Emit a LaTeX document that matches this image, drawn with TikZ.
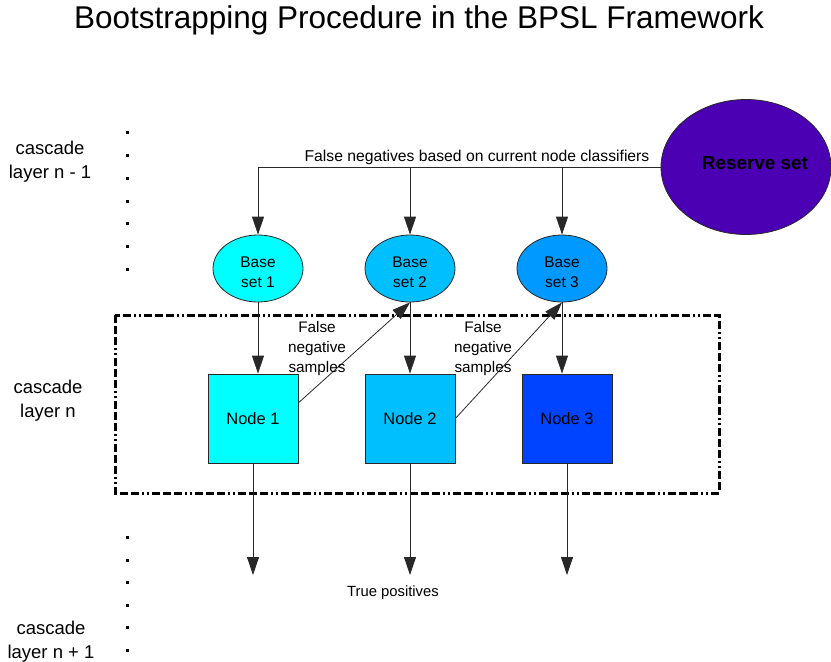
\documentclass[tikz,border=0pt]{standalone}
\usepackage{fontspec}
\setmainfont{Liberation Sans}
\usetikzlibrary{shapes.geometric,arrows.meta,calc}

\definecolor{cyanfill}{RGB}{0,255,255}
\definecolor{skyfill}{RGB}{0,191,255}
\definecolor{azurefill}{RGB}{0,153,255}
\definecolor{bluefill}{RGB}{0,68,255}
\definecolor{reservefill}{RGB}{75,0,180}
\definecolor{edgegray}{RGB}{40,40,40}

\begin{document}
\begin{tikzpicture}[x=1pt,y=-1pt,
  baseset/.style={ellipse, draw=edgegray, line width=0.8pt,
    minimum width=90pt, minimum height=67pt, inner sep=0pt},
  setname/.style={label={[yshift=-4pt, align=center,
    font=\fontsize{15.5}{20}\selectfont]center:#1}},
  nodebox/.style={rectangle, draw=edgegray, line width=0.8pt,
    minimum width=90pt, minimum height=89pt, inner sep=0pt,
    font=\fontsize{16.5}{20}\selectfont},
  flow/.style={draw=edgegray, line width=0.8pt,
    -{Triangle[length=18pt,width=12pt]}},
  plain/.style={draw=edgegray, line width=0.8pt},
  layerlabel/.style={align=center, font=\fontsize{18.5}{24}\selectfont},
  smalllabel/.style={align=center, font=\fontsize{15.3}{20}\selectfont},
  groupbox/.style={line width=3pt, black,
    dash pattern=on 8pt off 3pt on 8pt off 3pt on 8pt off 3pt on 2pt off 3pt on 2pt off 3pt},
  layerdot/.style={fill=black}
]
\useasboundingbox (0,0) rectangle (831,662);

% title
\node[font=\fontsize{31.5}{36}\selectfont] (title) at (419,20) {Bootstrapping Procedure in the BPSL Framework};

% layer labels
\node[layerlabel] (ln1) at (50,162) {cascade\\layer n - 1};
\node[layerlabel] (ln) at (48,401) {cascade\\layer n};
\node[layerlabel] (ln2) at (51,642) {cascade\\layer n + 1};

% dotted separators
\foreach \yy in {132,155,178,201,223,246,269}
  \fill[layerdot] (125.5,\yy-1.5) rectangle ++(3,3);
\foreach \yy in {537,560,582,605,627,650}
  \fill[layerdot] (125.5,\yy-1.5) rectangle ++(3,3);

% current cascade layer
\draw[groupbox] (115,315) rectangle (719,493);

% reserve set
\node[ellipse, draw=edgegray, line width=0.8pt, fill=reservefill,
  minimum width=170pt, minimum height=135pt, inner sep=0pt] (res) at (746,167) {};
\node[font=\bfseries\fontsize{18.9}{22}\selectfont] (restext) at (755,163) {Reserve set};

% base sets
\node[baseset, fill=cyanfill, setname={Base\\set 1}] (b1) at (258,268.5) {};
\node[baseset, fill=skyfill, setname={Base\\set 2}] (b2) at (410,268.5) {};
\node[baseset, fill=azurefill, setname={Base\\set 3}] (b3) at (562,268.5) {};

% classifier nodes
\node[nodebox, fill=cyanfill] (n1) at (253,418.5) {Node 1};
\node[nodebox, fill=skyfill] (n2) at (410,418.5) {Node 2};
\node[nodebox, fill=bluefill] (n3) at (567,418.5) {Node 3};

% false negatives from the reserve set
\coordinate (split1) at (b1.north |- res.west);
\draw[plain] (res.west) -- (split1);
\draw[flow] (split1) -- (b1.north);
\draw[flow] (b2.north |- res.west) -- (b2.north);
\draw[flow] (b3.north |- res.west) -- (b3.north);
\node[font=\fontsize{15.7}{18}\selectfont] (fnlabel) at (477,157)
  {False negatives based on current node classifiers};

% base sets feed the nodes
\draw[flow] (b1.south) -- (b1.south |- n1.north);
\draw[flow] (b2.south) -- (b2.south |- n2.north);
\draw[flow] (b3.south) -- (b3.south |- n3.north);

% false negative samples passed on
\draw[flow] (n1.19) -- (b2.south);
\draw[flow] (n2.east) -- (b3.south);
\node[smalllabel] (fn1) at (317,349) {False\\negative\\samples};
\node[smalllabel] (fn2) at (483,349) {False\\negative\\samples};

% true positives move to the next layer
\coordinate (t1) at (253,575);
\coordinate (t2) at (410,575);
\coordinate (t3) at (567,575);
\draw[flow] (n1.south) -- (t1);
\draw[flow] (n2.south) -- (t2);
\draw[flow] (n3.south) -- (t3);
\node[font=\fontsize{14.8}{18}\selectfont] (tp) at (393,593) {True positives};
\end{tikzpicture}
\end{document}
